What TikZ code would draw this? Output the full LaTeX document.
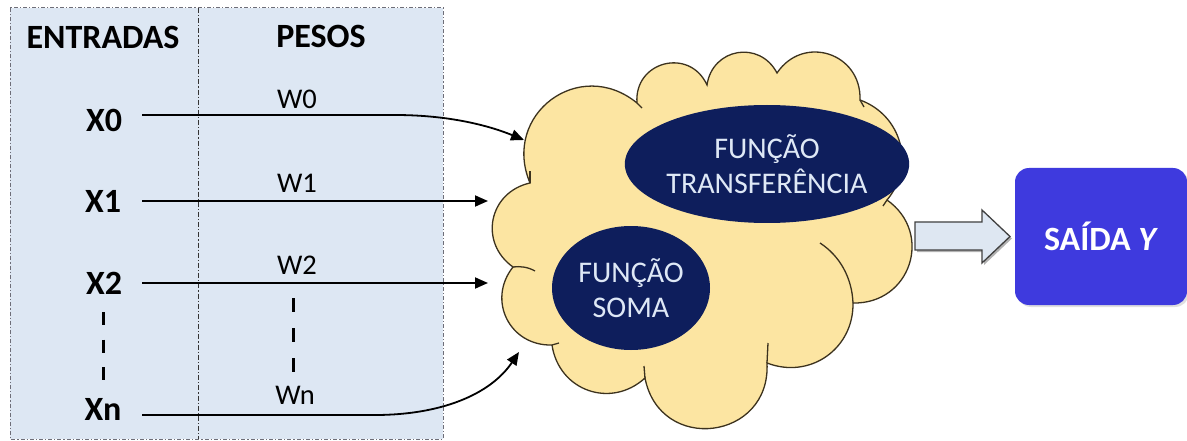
\documentclass[tikz,border=0pt]{standalone}
\usepackage{fontspec}
\setmainfont{Carlito}
\usetikzlibrary{shapes.geometric,arrows.meta,shadows}

\definecolor{panelblue}{RGB}{221,231,243}
\definecolor{panelline}{RGB}{110,110,120}
\definecolor{cloudfill}{RGB}{252,229,162}
\definecolor{cloudline}{RGB}{60,50,30}
\definecolor{navy}{RGB}{14,30,92}
\definecolor{navytext}{RGB}{222,232,246}
\definecolor{outblue}{RGB}{62,58,222}
\definecolor{arrowfill}{RGB}{222,231,242}

\tikzset{
  hdr/.style={font=\fontsize{34}{38}\selectfont\bfseries, inner sep=0pt},
  inlabel/.style={font=\fontsize{34}{38}\selectfont\bfseries, inner sep=0pt},
  wlabel/.style={font=\fontsize{28.5}{32}\selectfont, inner sep=0pt},
  link/.style={line width=1.8pt, -{Triangle[length=13pt,width=11pt]}},
  vdots/.style={line width=3pt},
  func/.style={ellipse, fill=navy, text=navytext, align=center,
    font=\fontsize{30}{35}\selectfont, inner sep=0pt},
  puff/.style 2 args={bend left=#1, looseness=#2},
  cloudedge/.style={draw=cloudline, line width=1.3pt},
}

\begin{document}
\begin{tikzpicture}[x=1pt,y=-1pt]
\useasboundingbox (0,0) rectangle (1187,441);
\fill[white] (0,0) rectangle (1187,441);

% input/weight panel
\draw[fill=panelblue, draw=panelline, line width=1pt,
      dash pattern=on 4pt off 2pt on 1.2pt off 2pt] (10,8) rectangle (443,439);
\draw[black!80, line width=1pt, dash pattern=on 5pt off 2pt on 1.2pt off 2pt]
      (198,8) -- (198,439);

\node[hdr] (entradas) at (103,37) {ENTRADAS};
\node[hdr] (pesos) at (321,36) {PESOS};

\node[inlabel] (x0) at (104,120) {X0};
\node[inlabel] (x1) at (103,201) {X1};
\node[inlabel] (x2) at (104,283) {X2};
\node[inlabel] (xn) at (103,409) {Xn};

\node[wlabel] (w0) at (297,99) {W0};
\node[wlabel] (w1) at (297,183) {W1};
\node[wlabel] (w2) at (297,265) {W2};
\node[wlabel] (wn) at (295,395) {Wn};

% ellipsis marks
\draw[vdots, dash pattern=on 13pt off 14.5pt] (103,312) -- (103,381);
\draw[vdots, dash pattern=on 14pt off 16pt] (293,298) -- (293,373);

% processing cloud: puffs joined at cusps c1..c11
\coordinate (c1) at (530,183);
\coordinate (c2) at (637,103);
\coordinate (c3) at (707,85);
\coordinate (c4) at (777,73);
\coordinate (c5) at (860,100);
\coordinate (c6) at (887,200);
\coordinate (c7) at (853,303);
\coordinate (c8) at (767,363);
\coordinate (c9) at (645,378);
\coordinate (c10) at (552,345);
\coordinate (c11) at (513,267);
\path[cloudedge, fill=cloudfill]
  (c1) to[puff={76}{1.42}] (c2)
       to[puff={80}{1.48}] (c3)
       to[puff={72}{1.35}] (c4)
       to[puff={74}{1.38}] (c5)
       to[puff={55}{1.10}] (c6)
       to[puff={73}{1.36}] (c7)
       to[puff={56}{1.12}] (c8)
       to[puff={86}{1.62}] (c9)
       to[puff={62}{1.20}] (c10)
       to[puff={65}{1.24}] (c11)
       to[puff={66}{1.26}] (c1) -- cycle;
% inner fold lines at the cusps
\draw[cloudedge] (c1) -- ++(0,-12);
\draw[cloudedge] (c2) -- ++(5,5);
\draw[cloudedge] (c5) -- ++(4,7);
\draw[cloudedge] (c6) -- ++(-4,6);
\draw[cloudedge] (c7) .. controls (852,278) and (840,256) .. (820,243);
\draw[cloudedge] (c8) -- ++(1,-20);
\draw[cloudedge] (c9) -- ++(-1,-12);
\draw[cloudedge] (c10) -- ++(7,-2);
\draw[cloudedge] (c11) .. controls (520,266) and (528,267) .. (535,271);

\node[func, minimum width=260pt, minimum height=118pt] (transf) at (767,164)
  {FUNÇÃO\\TRANSFERÊNCIA};
\node[func, minimum width=158pt, minimum height=124pt] (soma) at (631,288)
  {FUNÇÃO\\SOMA};

% start points of the input lines and arrow tips on the cloud
\coordinate (s0) at (142,115);
\coordinate (s1) at (142,201);
\coordinate (s2) at (142,283);
\coordinate (sn) at (142,415);
\coordinate (t0) at (524,140);
\coordinate (t1) at (488,201);
\coordinate (t2) at (488,283);
\coordinate (tn) at (519,352);

\draw[link] (s0) -- (395,115) .. controls (450,115) and (490,126) .. (t0);
\draw[link] (s1) -- (t1);
\draw[link] (s2) -- (t2);
\draw[link] (sn) -- (375,415) .. controls (440,415) and (490,395) .. (tn);

% output
\node[rectangle, rounded corners=14pt, fill=outblue, text=white,
      minimum width=172pt, minimum height=137pt, inner sep=0pt,
      drop shadow={opacity=0.25, shadow xshift=2pt, shadow yshift=-2pt},
      font=\fontsize{34}{38}\selectfont\bfseries] (out) at (1101,236.5)
  {SAÍDA \textit{Y}};

% block arrow from the cloud to the output
\filldraw[fill=black, opacity=0.3, draw=none]
  (917,224) -- (984,224) -- (984,212) -- (1012,238.5) -- (984,265) -- (984,252)
  -- (917,252) -- cycle;
\filldraw[fill=arrowfill, draw=black!75, line width=1.3pt, line join=miter]
  (915,222) -- (982,222) -- (982,210) -- (1010,236.5) -- (982,263) -- (982,250)
  -- (915,250) -- cycle;
\end{tikzpicture}
\end{document}
